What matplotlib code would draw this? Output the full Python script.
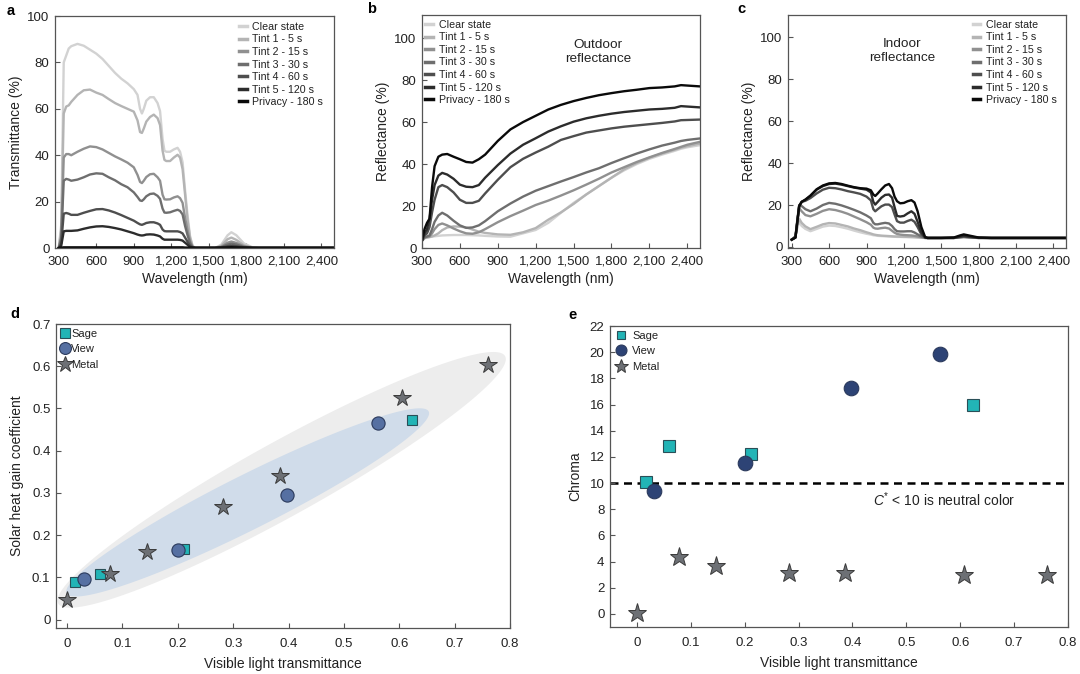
import numpy as np
import matplotlib
matplotlib.use('Agg')
import matplotlib.pyplot as plt
from matplotlib.patches import Polygon

plt.rcParams['font.family'] = ['Liberation Sans', 'DejaVu Sans']
plt.rcParams['mathtext.fontset'] = 'custom'
plt.rcParams['mathtext.it'] = 'Liberation Sans:italic'
plt.rcParams['mathtext.rm'] = 'Liberation Sans'

# ---------------- data ----------------
state_labels = ['Clear state', 'Tint 1 - 5 s', 'Tint 2 - 15 s', 'Tint 3 - 30 s',
                'Tint 4 - 60 s', 'Tint 5 - 120 s', 'Privacy - 180 s']
wl_ticks = [300, 600, 900, 1200, 1500, 1800, 2100, 2400]
wl_ticklabels = ['300', '600', '900', '1,200', '1,500', '1,800', '2,100', '2,400']

# panel a: transmittance
wl_a = [300, 320, 340, 360, 380, 400, 450, 500, 550, 600, 650, 700, 750, 800, 850, 900,
        930, 950, 965, 980, 1000, 1030, 1060, 1090, 1110, 1130, 1145, 1160, 1190, 1220,
        1250, 1270, 1290, 1310, 1330, 1350, 1370, 1390, 1450, 1550, 1600, 1650, 1680,
        1720, 1780, 1850, 1900, 2000, 2200, 2500]
T_clear = [0, 10, 80, 83, 86, 87, 88, 87.2, 85.5, 83.8, 81.5, 78.5, 75.5, 73, 71, 68.5,
           66, 60, 58, 60, 63.5, 65, 65, 62.5, 59, 47, 42, 41.5, 41.5, 42.5,
           43.2, 41.5, 37, 25, 14, 5, 1, 0, 0, 0, 1.5, 5.5, 6.8,
           5.5, 2, 0.3, 0, 0, 0, 0]
T_tint1 = [0, 8, 58, 61, 61.5, 63, 66, 68, 68.3, 67, 66, 64.2, 62.5, 61.2, 60, 58.8,
           55, 50, 49.6, 51.5, 54.5, 56.5, 57.5, 56, 53, 42, 38, 37.5, 37.5, 39,
           40.2, 39, 34, 23, 12, 4.5, 0.8, 0, 0, 0, 1, 3.8, 4.5,
           3.5, 1.2, 0.2, 0, 0, 0, 0]
T_tint2 = [0, 5, 39, 40.5, 40.5, 40, 41.5, 42.8, 43.8, 43.5, 42.5, 41, 39.5, 38.2, 36.8, 34.8,
           31.5, 28.5, 28, 29, 30.6, 31.8, 32, 30.5, 29, 23, 21, 20.9, 21, 21.8,
           22.3, 21.5, 19.5, 13, 7.5, 3, 0.5, 0, 0, 0, 0.6, 2.3, 2.8,
           2.2, 0.8, 0.1, 0, 0, 0, 0]
T_tint3 = [0, 4, 29, 29.8, 29.5, 29, 29.5, 30.5, 31.7, 32.2, 32, 30.5, 29.2, 27.5, 26.2, 24,
           22, 20.5, 20.3, 21, 22.3, 23.3, 23.5, 22.5, 21.2, 17, 15.3, 15.2, 15.4, 16,
           16.5, 16, 14.5, 9.5, 5.5, 2, 0.4, 0, 0, 0, 0.4, 1.5, 1.9,
           1.5, 0.5, 0, 0, 0, 0, 0]
T_tint4 = [0, 2, 14.8, 15.1, 14.8, 14.3, 14.3, 15.2, 16, 16.7, 16.8, 16.2, 15.3, 14.2, 13, 11.8,
           10.8, 10.2, 10, 10.3, 10.8, 11.1, 11.1, 10.6, 10, 8, 7.3, 7.2, 7.2, 7.2,
           7.2, 6.9, 6.3, 4.5, 2.7, 1, 0.2, 0, 0, 0, 0.2, 0.8, 1.0,
           0.8, 0.3, 0, 0, 0, 0, 0]
T_tint5 = [0, 1, 7.2, 7.4, 7.4, 7.4, 7.6, 8.3, 8.9, 9.3, 9.4, 9.1, 8.6, 8, 7.2, 6.4,
           5.8, 5.5, 5.4, 5.5, 5.8, 5.9, 5.8, 5.4, 5, 4, 3.6, 3.6, 3.6, 3.6,
           3.6, 3.5, 3.2, 2.3, 1.4, 0.5, 0.1, 0, 0, 0, 0.1, 0.4, 0.5,
           0.4, 0.1, 0, 0, 0, 0, 0]
T_privacy = [0, 0.2, 0.3, 0.3, 0.3, 0.3, 0.3, 0.3, 0.3, 0.3, 0.3, 0.3, 0.3, 0.3, 0.3, 0.3,
             0.3, 0.3, 0.3, 0.3, 0.3, 0.3, 0.3, 0.3, 0.3, 0.3, 0.3, 0.3, 0.3, 0.3,
             0.3, 0.3, 0.3, 0.2, 0.2, 0.2, 0.2, 0.2, 0.2, 0.2, 0.2, 0.2, 0.3,
             0.2, 0.2, 0.2, 0.2, 0.2, 0.2, 0.2]

# panel b: outdoor reflectance
wl_b = [300, 320, 340, 360, 380, 400, 430, 460, 500, 550, 600, 650, 700, 750, 800, 900,
        1000, 1100, 1200, 1300, 1400, 1500, 1600, 1700, 1800, 1900, 2000, 2100, 2200,
        2300, 2350, 2400, 2500]
Ro_clear = [3.5, 4.5, 5, 5.3, 5.5, 5.6, 5.8, 6, 6.1, 6.2, 6.2, 6.2, 6.1, 6, 5.8, 5.5,
            5.4, 7, 8.6, 12, 16.8, 21.5, 25.5, 29.5, 33.5, 37, 40, 42.5, 44.5,
            46.3, 47.3, 48, 49]
Ro_tint1 = [3.5, 5, 5, 5.2, 5.5, 6, 7, 8.5, 9.8, 10.3, 10.2, 9.8, 8.8, 7.8, 7.2, 6.5,
            6.3, 7.5, 9.5, 13.5, 17, 21, 25.5, 29.5, 33.5, 37.5, 40.5, 43, 45,
            46.8, 47.8, 48.5, 49.8]
Ro_tint2 = [3.5, 5, 5.3, 5.5, 7, 9, 11, 11.7, 10.8, 9.3, 8, 7, 6.8, 7.5, 9, 12.3,
            15.2, 17.8, 20.5, 22.6, 25, 27.5, 30.2, 33, 36, 38.5, 41, 43.2, 45.3,
            47.2, 48.2, 49.2, 50.6]
Ro_tint3 = [3.5, 5, 5.5, 6, 9, 12.5, 15.5, 16.8, 15.5, 13, 10.8, 9.6, 9.8, 10.8, 12.8, 17.5,
            21.2, 24.5, 27.3, 29.5, 31.7, 33.8, 36, 38, 40.5, 42.8, 45, 47, 48.8,
            50.2, 51, 51.5, 52.2]
Ro_tint4 = [3.5, 6, 7, 10, 17, 23, 29, 30, 29, 26.5, 23, 21.5, 21.5, 22.5, 26, 32.5,
            38.5, 42.5, 45.5, 48.3, 51.5, 53.3, 55, 56, 57, 57.8, 58.4, 59, 59.6,
            60.3, 60.9, 61, 61.2]
Ro_tint5 = [3.5, 7, 9, 14, 23, 30, 34.5, 35.8, 35, 33, 30.2, 29.2, 29, 30, 33.5, 39.5,
            45, 49.2, 52.3, 55.5, 58, 60.2, 61.8, 63, 64, 64.8, 65.4, 66, 66.3,
            66.8, 67.6, 67.4, 67]
Ro_privacy = [3.5, 9, 12, 14, 29, 39, 43.5, 44.5, 44.8, 43.5, 42.3, 41, 40.7, 42.3, 44.5, 51,
              56.5, 60, 63, 66, 68.2, 70, 71.5, 72.8, 73.8, 74.7, 75.4, 76.2, 76.5,
              77, 77.6, 77.4, 77]

# panel c: indoor reflectance
wl_c = [300, 330, 345, 360, 380, 410, 450, 500, 550, 600, 650, 700, 750, 800, 850, 900,
        935, 955, 970, 990, 1020, 1050, 1080, 1105, 1125, 1145, 1170, 1200, 1230, 1260,
        1285, 1310, 1340, 1370, 1390, 1500, 1600, 1650, 1680, 1720, 1800, 1900, 2500]
Ri_clear = [3.5, 5, 9, 12, 10, 8.6, 7.5, 8.6, 9.7, 10.2, 10, 9.4, 8.7, 7.8, 7, 6.3,
            5.9, 5.6, 5.5, 5.3, 5.2, 5.1, 5.0, 4.9, 4.9, 4.8, 4.8, 4.7, 4.7, 4.6,
            4.6, 4.5, 4.4, 4.3, 4.3, 4.3, 4.3, 4.5, 4.6, 4.5, 4.3, 4.3, 4.3]
Ri_tint1 = [3.5, 5, 10, 13.5, 11.5, 9.8, 8.5, 9.6, 10.8, 11.4, 11.2, 10.5, 9.8, 8.8, 8, 7,
            6.4, 6, 5.8, 5.6, 5.4, 5.3, 5.2, 5.1, 5, 5, 4.9, 4.9, 4.8, 4.8,
            4.7, 4.6, 4.5, 4.3, 4.3, 4.3, 4.3, 4.5, 4.7, 4.5, 4.3, 4.3, 4.3]
Ri_tint2 = [3.5, 5, 12, 18.5, 17, 15.2, 14.6, 15.8, 17.2, 18, 17.6, 16.8, 15.8, 14.5, 13.2, 11.8,
            10.6, 9.2, 8.8, 8.7, 9, 9.2, 8.8, 7.7, 6.8, 6.2, 5.9, 5.7, 5.6, 5.5,
            5.3, 5, 4.6, 4.3, 4.3, 4.3, 4.3, 4.6, 4.8, 4.6, 4.3, 4.3, 4.3]
Ri_tint3 = [3.5, 5, 13, 20, 19.5, 18, 17, 18.3, 20, 21, 20.6, 19.8, 18.8, 17.7, 16.5, 15,
            13.7, 11.5, 10.8, 10.8, 11.2, 11.5, 11.2, 10, 8.5, 7.5, 7.4, 7.4, 7.5, 7.5,
            6.9, 6, 5, 4.4, 4.3, 4.3, 4.3, 4.7, 4.9, 4.7, 4.3, 4.3, 4.3]
Ri_tint4 = [3.5, 4.5, 12, 19.5, 21.5, 22, 23.3, 25.5, 27.3, 28.2, 28, 27.4, 26.6, 26, 25.3, 24,
            22.2, 18, 17, 18, 19.4, 20.2, 20.2, 19, 15.5, 12.3, 11.6, 11.6, 12.4, 13,
            12, 9.5, 6, 4.5, 4.3, 4.3, 4.3, 4.8, 5, 4.8, 4.4, 4.3, 4.3]
Ri_tint5 = [3.5, 4.5, 12, 19.5, 21.5, 22.5, 24.3, 27.3, 29, 30, 30.2, 29.7, 29, 28.3, 27.8, 27.3,
            26, 21.5, 20.2, 21.5, 23.5, 24.8, 25, 23.5, 19, 14.8, 14.5, 14.8, 16, 17,
            15.8, 12, 7, 4.5, 4.3, 4.3, 4.4, 5, 5.4, 5, 4.4, 4.3, 4.3]
Ri_privacy = [3.5, 4.5, 12, 19.5, 21.5, 22.6, 24.5, 27.5, 29.3, 30.3, 30.5, 30, 29.2, 28.5, 28, 27.8,
              27, 25, 24.3, 25.5, 27.5, 29.3, 30, 28, 24, 21.8, 20.8, 21, 21.8, 22.3,
              21.2, 17, 9.5, 4.8, 4.3, 4.3, 4.5, 5.5, 6, 5.5, 4.5, 4.3, 4.3]

# panels d & e: glazing comparison
sage_vlt = [0.015, 0.059, 0.211, 0.623]
sage_shgc = [0.089, 0.107, 0.167, 0.473]
view_vlt = [0.030, 0.200, 0.397, 0.561]
view_shgc = [0.095, 0.166, 0.295, 0.465]
metal_vlt = [0.000, 0.078, 0.145, 0.282, 0.385, 0.605, 0.760]
metal_shgc = [0.046, 0.107, 0.160, 0.267, 0.341, 0.526, 0.603]

sage_vlt_e = [0.017, 0.060, 0.211, 0.624]
sage_chroma = [10.1, 12.85, 12.2, 16.0]
view_vlt_e = [0.031, 0.201, 0.398, 0.563]
view_chroma = [9.4, 11.5, 17.3, 19.85]
metal_vlt_e = [0.000, 0.079, 0.146, 0.283, 0.386, 0.607, 0.761]
metal_chroma = [0.05, 4.35, 3.7, 3.13, 3.13, 3.0, 3.0]
neutral_limit = 10

# ---------------- styling ----------------
line_colors = ['#d2d2d2', '#b4b4b4', '#909090', '#6e6e6e', '#4e4e4e', '#2c2c2c', '#0a0a0a']
spine_col = '#555555'
text_col = '#222222'

fig = plt.figure(figsize=(10.8, 6.74), dpi=100)


def style_axes(ax, xpad=5.5):
    for s in ax.spines.values():
        s.set_color(spine_col)
        s.set_linewidth(0.9)
    ax.tick_params(direction='in', length=3.5, width=0.8, colors=spine_col,
                   labelcolor=text_col, labelsize=9.5)
    ax.tick_params(axis='x', pad=xpad)
    ax.tick_params(axis='y', pad=4)


def spectra(rect, wl, curves, ylabel, xlim, ylim, yticks, leg_anchor):
    ax = fig.add_axes(rect)
    for lab, col, y in zip(state_labels, line_colors, curves):
        ax.plot(wl, y, color=col, lw=1.7, label=lab, solid_joinstyle='round')
    ax.set_xlim(*xlim)
    ax.set_ylim(*ylim)
    ax.set_xticks(wl_ticks)
    ax.set_xticklabels(wl_ticklabels)
    ax.set_yticks(yticks)
    ax.set_xlabel('Wavelength (nm)', fontsize=10, color=text_col, labelpad=3)
    ax.set_ylabel(ylabel, fontsize=10, color=text_col, labelpad=3)
    style_axes(ax)
    leg = ax.legend(loc='upper left', bbox_to_anchor=leg_anchor, frameon=False,
                    fontsize=7.7, handlelength=0.7, handletextpad=0.55,
                    labelspacing=0.24, borderaxespad=0, borderpad=0)
    for h in leg.get_lines():
        h.set_linewidth(2.5)
    for t in leg.get_texts():
        t.set_color(text_col)
    return ax


ax_a = spectra([0.0509, 0.632, 0.2583, 0.3442], wl_a,
               [T_clear, T_tint1, T_tint2, T_tint3, T_tint4, T_tint5, T_privacy],
               'Transmittance (%)', (270, 2500), (0, 100), [0, 20, 40, 60, 80, 100],
               (0.66, 0.975))
ax_b = spectra([0.3907, 0.632, 0.2574, 0.3457], wl_b,
               [Ro_clear, Ro_tint1, Ro_tint2, Ro_tint3, Ro_tint4, Ro_tint5, Ro_privacy],
               'Reflectance (%)', (300, 2500), (0, 111), [0, 20, 40, 60, 80, 100],
               (0.012, 0.98))
ax_c = spectra([0.7296, 0.632, 0.2574, 0.3457], wl_c,
               [Ri_clear, Ri_tint1, Ri_tint2, Ri_tint3, Ri_tint4, Ri_tint5, Ri_privacy],
               'Reflectance (%)', (270, 2500), (-0.5, 110.5), [0, 20, 40, 60, 80, 100],
               (0.665, 0.98))
ax_b.text(1694, 93.5, 'Outdoor\nreflectance', ha='center', va='center', fontsize=9.7,
          color=text_col)
ax_c.text(1187, 93.5, 'Indoor\nreflectance', ha='center', va='center', fontsize=9.7,
          color=text_col)

# ---------------- panel d ----------------
sage_face, sage_edge = '#22b4b6', '#2a4f58'
view_face_d, view_edge = '#5670a2', '#2b3a5c'
view_face_e = '#2d4375'
metal_face, metal_edge = '#6d7075', '#3a3a3a'

ax_d = fig.add_axes([0.0519, 0.0682, 0.4204, 0.451])
ax_d.set_xlim(-0.02, 0.8)
ax_d.set_ylim(-0.02, 0.7)


def add_ellipse(ax, p1, p2, semi_minor_px, color):
    d1 = ax.transData.transform(p1)
    d2 = ax.transData.transform(p2)
    c = (d1 + d2) / 2
    u = (d2 - d1) / 2
    n = np.array([-u[1], u[0]]) / np.hypot(*u) * semi_minor_px
    t = np.linspace(0, 2 * np.pi, 200)
    pts = c[None, :] + np.cos(t)[:, None] * u[None, :] + np.sin(t)[:, None] * n[None, :]
    data_pts = ax.transData.inverted().transform(pts)
    ax.add_patch(Polygon(data_pts, closed=True, facecolor=color, edgecolor='none',
                         zorder=0))


add_ellipse(ax_d, (-0.016, 0.038), (0.791, 0.624), 37, '#ededed')
add_ellipse(ax_d, (-0.001, 0.062), (0.653, 0.493), 27, '#d0dcea')

ax_d.plot(sage_vlt, sage_shgc, ls='none', marker='s', ms=7.5, mfc=sage_face, mec=sage_edge,
          mew=0.8, label='Sage', zorder=3)
ax_d.plot(view_vlt, view_shgc, ls='none', marker='o', ms=9.5, mfc=view_face_d, mec=view_edge,
          mew=0.8, label='View', zorder=4)
ax_d.plot(metal_vlt, metal_shgc, ls='none', marker='*', ms=13, mfc=metal_face, mec=metal_edge,
          mew=0.7, label='Metal', zorder=3)
ax_d.set_xticks([0, 0.1, 0.2, 0.3, 0.4, 0.5, 0.6, 0.7, 0.8])
ax_d.set_xticklabels(['0', '0.1', '0.2', '0.3', '0.4', '0.5', '0.6', '0.7', '0.8'])
ax_d.set_yticks([0, 0.1, 0.2, 0.3, 0.4, 0.5, 0.6, 0.7])
ax_d.set_yticklabels(['0', '0.1', '0.2', '0.3', '0.4', '0.5', '0.6', '0.7'])
ax_d.set_xlabel('Visible light transmittance', fontsize=10, color=text_col, labelpad=5)
ax_d.set_ylabel('Solar heat gain coefficient', fontsize=10, color=text_col, labelpad=6)
style_axes(ax_d, xpad=7)
leg_d = ax_d.legend(loc='upper left', bbox_to_anchor=(0.008, 0.985), frameon=False,
                    fontsize=8, handlelength=0.9, handletextpad=0.15, labelspacing=0.5,
                    borderaxespad=0, borderpad=0, markerscale=0.9)
for t in leg_d.get_texts():
    t.set_color(text_col)

# ---------------- panel e ----------------
ax_e = fig.add_axes([0.5648, 0.0697, 0.4241, 0.4466])
ax_e.set_xlim(-0.05, 0.8)
ax_e.set_ylim(-1, 22)
ax_e.axhline(neutral_limit, color='black', lw=1.8, ls=(0, (3.2, 2.2)), zorder=1)
ax_e.plot(sage_vlt_e, sage_chroma, ls='none', marker='s', ms=8.5, mfc=sage_face, mec=sage_edge,
          mew=0.8, label='Sage', zorder=3)
ax_e.plot(view_vlt_e, view_chroma, ls='none', marker='o', ms=10.5, mfc=view_face_e, mec=view_edge,
          mew=0.8, label='View', zorder=4)
ax_e.plot(metal_vlt_e, metal_chroma, ls='none', marker='*', ms=14, mfc=metal_face, mec=metal_edge,
          mew=0.7, label='Metal', zorder=3)
ax_e.set_xticks([0, 0.1, 0.2, 0.3, 0.4, 0.5, 0.6, 0.7, 0.8])
ax_e.set_xticklabels(['0', '0.1', '0.2', '0.3', '0.4', '0.5', '0.6', '0.7', '0.8'])
ax_e.set_yticks(list(range(0, 23, 2)))
ax_e.set_xlabel('Visible light transmittance', fontsize=10, color=text_col, labelpad=5)
ax_e.set_ylabel('Chroma', fontsize=10, color=text_col, labelpad=5)
style_axes(ax_e, xpad=7)
ax_e.text(0.438, 8.75, r'$C^{*}$ < 10 is neutral color', fontsize=10, va='center',
          color=text_col)
leg_e = ax_e.legend(loc='upper left', bbox_to_anchor=(0.012, 0.985), frameon=False,
                    fontsize=8, handlelength=1.0, handletextpad=0.5, labelspacing=0.5,
                    borderaxespad=0, borderpad=0, markerscale=0.75)
for t in leg_e.get_texts():
    t.set_color(text_col)

# panel letters
for lab, x, y in [('a', 7, 11), ('b', 367, 9), ('c', 737, 9), ('d', 10, 314), ('e', 568, 315)]:
    fig.text(x / 1080, 1 - y / 674, lab, fontsize=10.5, fontweight='bold', va='center',
             ha='left', color='black')

fig.savefig('out.png', dpi=100)
